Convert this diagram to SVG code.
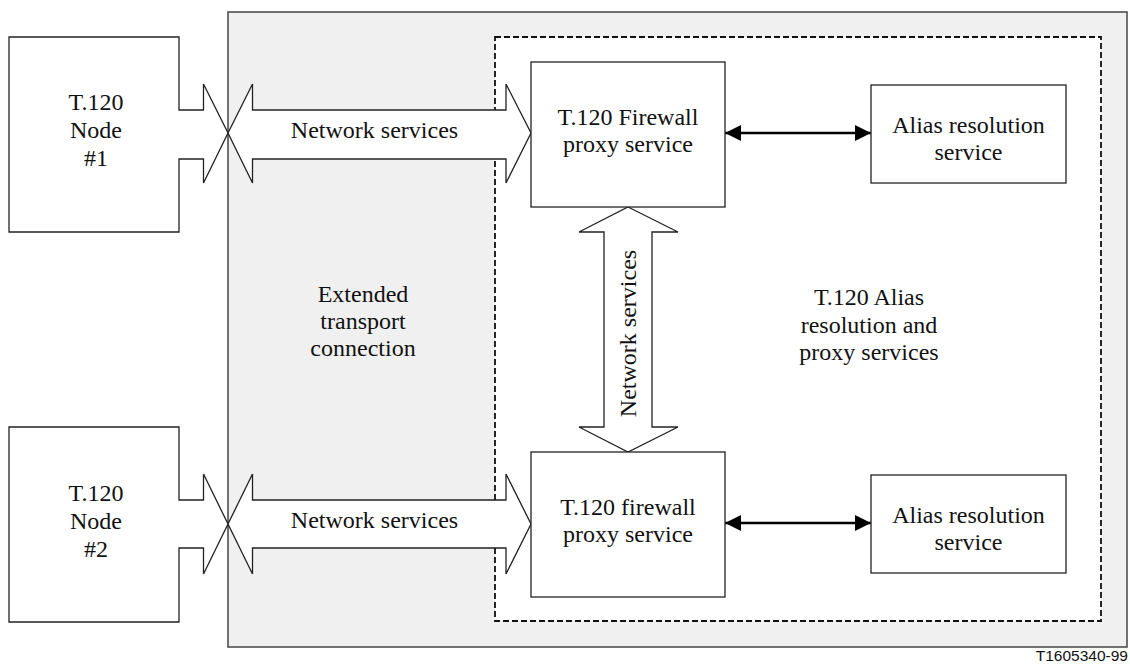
<svg xmlns="http://www.w3.org/2000/svg" width="1130" height="666" viewBox="0 0 1130 666">
<style>
  .t { font-family: "Liberation Serif", "Times New Roman", serif; font-size: 24px; fill: #111; text-anchor: middle; }
  .box { fill: #fff; stroke: #222; stroke-width: 1.3; }
  .big { fill: #f0f0f0; stroke: #444; stroke-width: 1.5; }
  .dash { fill: #fff; stroke: #111; stroke-width: 1.8; stroke-dasharray: 6 3; }
  .conn { fill: none; stroke: #000; stroke-width: 2.3; }
  .lbl { font-family: "Liberation Sans", Arial, sans-serif; font-size: 15.5px; fill: #111; text-anchor: end; }
</style>
<defs>
  <marker id="ah" viewBox="0 0 16 16" refX="16" refY="8" markerWidth="16" markerHeight="16" markerUnits="userSpaceOnUse" orient="auto-start-reverse">
    <path d="M0,0 L16,8 L0,16 Z" fill="#000"/>
  </marker>
</defs>

<g id="background">
  <rect class="big" x="228" y="12" width="899" height="635"/>
  <rect class="dash" x="495" y="37" width="606" height="584"/>
</g>

<g id="connectors">
  <path id="ns-top" class="box" d="M228,133 L252.5,84 V110 H506 V84 L531,133 L506,183 V159 H252.5 V183 Z"/>
  <path id="ns-bottom" class="box" d="M228,524 L252.5,474 V500 H506 V474 L531,524 L506,574 V548 H252.5 V574 Z"/>
  <path id="ns-vertical" class="box" d="M628,207 L678,232 H652 V427 H678 L628,452 L579,427 H604 V232 H579 Z"/>
  <line class="conn" x1="725" y1="133" x2="871" y2="133" marker-start="url(#ah)" marker-end="url(#ah)"/>
  <line class="conn" x1="725" y1="523" x2="871" y2="523" marker-start="url(#ah)" marker-end="url(#ah)"/>
  <text class="t" x="374.5" y="138">Network services</text>
  <text class="t" x="374.5" y="528">Network services</text>
  <text class="t" transform="translate(636,333.5) rotate(-90)" x="0" y="0">Network services</text>
</g>

<g id="node1">
  <path class="box" d="M9,37 H179 V110 H203.5 V84 L228,133 L203.5,183 V159 H179 V232 H9 Z"/>
  <text class="t" x="96" y="110">T.120</text>
  <text class="t" x="96" y="138">Node</text>
  <text class="t" x="96" y="166">#1</text>
</g>

<g id="node2">
  <path class="box" d="M9,427 H179 V500 H203.5 V474 L228,524 L203.5,574 V548 H179 V622 H9 Z"/>
  <text class="t" x="96" y="501">T.120</text>
  <text class="t" x="96" y="529">Node</text>
  <text class="t" x="96" y="557">#2</text>
</g>

<g id="extended">
  <text class="t" x="363" y="302">Extended</text>
  <text class="t" x="363" y="329">transport</text>
  <text class="t" x="363" y="356">connection</text>
</g>

<g id="alias-proxy-label">
  <text class="t" x="869" y="305">T.120 Alias</text>
  <text class="t" x="869" y="333">resolution and</text>
  <text class="t" x="869" y="360">proxy services</text>
</g>

<g id="firewall1">
  <rect class="box" x="531" y="62" width="194" height="145"/>
  <text class="t" x="628" y="125">T.120 Firewall</text>
  <text class="t" x="628" y="152">proxy service</text>
</g>

<g id="firewall2">
  <rect class="box" x="531" y="452" width="194" height="145"/>
  <text class="t" x="628" y="515">T.120 firewall</text>
  <text class="t" x="628" y="542">proxy service</text>
</g>

<g id="alias1">
  <rect class="box" x="871" y="85" width="195" height="98"/>
  <text class="t" x="968.5" y="133">Alias resolution</text>
  <text class="t" x="968.5" y="160">service</text>
</g>

<g id="alias2">
  <rect class="box" x="871" y="475" width="195" height="98"/>
  <text class="t" x="968.5" y="523">Alias resolution</text>
  <text class="t" x="968.5" y="550">service</text>
</g>

<text class="lbl" x="1128" y="661">T1605340-99</text>
</svg>
